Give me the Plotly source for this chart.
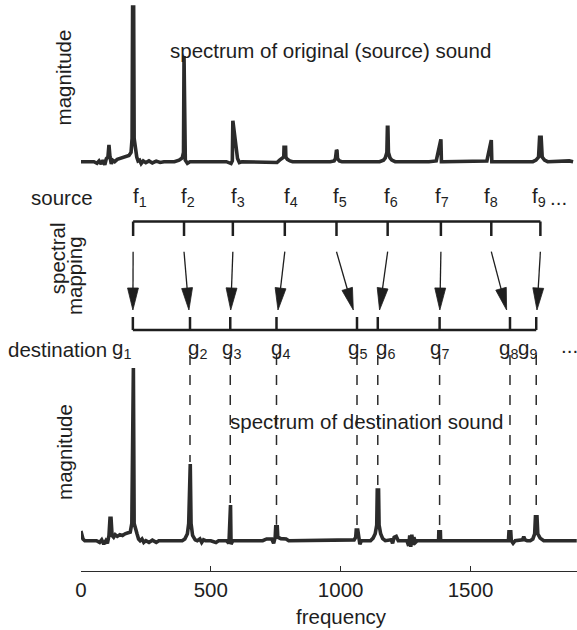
import math
import plotly.graph_objects as go

W, H = 577, 630

# ---------------- data ----------------
source_freqs = [201, 397, 585, 785, 984, 1181, 1386, 1580, 1769]
dest_freqs = [200, 420, 575, 753, 1063, 1143, 1381, 1652, 1753]
dest_peak_mag = [1.0, 0.444, 0.207, 0.081, 0.062, 0.293, 0.052, 0.052, 0.139]
source_labels = ["f<sub>%d</sub>" % i for i in range(1, 10)]
dest_labels = ["g<sub>%d</sub>" % i for i in range(1, 10)]
x_tick_vals = [0, 500, 1000, 1500]

src_spec_freq = [0, 50, 62, 70, 78, 85, 92, 98, 104, 108, 112, 117, 122, 130, 140, 150, 160,
                 172, 185, 193, 197, 199, 203, 205, 210, 215, 220, 226, 232, 240, 250, 262,
                 275, 290, 305, 320, 360, 378, 390, 395, 397, 399, 402, 410, 420, 560, 570,
                 578, 583, 585, 603, 610, 620, 740, 755, 765, 775, 781, 782, 788, 789, 795,
                 805, 815, 960, 975, 980, 982, 984, 986, 988, 995, 1005, 1150, 1165, 1172,
                 1178, 1180, 1182, 1184, 1190, 1197, 1210, 1340, 1368, 1386, 1388, 1395,
                 1540, 1563, 1580, 1582, 1590, 1740, 1752, 1762, 1766, 1772, 1776, 1785,
                 1797, 1880, 1895]
src_spec_mag = [0.0, 0.0, -0.01, 0.005, -0.015, 0.01, -0.02, 0.02, 0.03, 0.108, 0.03, -0.015,
                0.01, 0.0, 0.015, 0.02, 0.025, 0.03, 0.04, 0.06, 0.15, 1.0, 1.0, 0.15, 0.06,
                0.03, 0.005, 0.01, -0.012, 0.005, -0.006, 0.005, -0.008, 0.004, -0.005, 0.0,
                0.0, 0.01, 0.025, 0.06, 0.683, 0.06, 0.01, -0.01, 0.0, 0.0, -0.005, -0.012,
                0.005, 0.265, 0.02, -0.005, 0.0, 0.0, -0.005, 0.01, 0.02, 0.03, 0.093, 0.093,
                0.03, 0.015, 0.005, 0.0, 0.0, 0.005, 0.02, 0.07, 0.076, 0.07, 0.02, 0.005,
                0.0, 0.0, 0.01, 0.025, 0.06, 0.222, 0.222, 0.06, 0.025, 0.01, 0.0, 0.0,
                0.005, 0.145, 0.0, 0.0, 0.0, 0.005, 0.14, 0.0, 0.0, 0.0, 0.01, 0.03, 0.158,
                0.158, 0.03, 0.01, 0.0, 0.005, 0.0]

dst_spec_freq = [0, 8, 15, 60, 72, 80, 88, 96, 102, 108, 112, 116, 120, 126, 132, 140, 150,
                 160, 170, 180, 190, 196, 199, 202, 205, 210, 216, 222, 228, 235, 242, 250,
                 262, 275, 290, 300, 390, 400, 410, 415, 418, 421, 424, 430, 440, 448, 458,
                 465, 472, 480, 500, 520, 530, 560, 570, 573, 576, 578, 585, 700, 715, 735,
                 742, 748, 750, 756, 758, 770, 790, 800, 1040, 1052, 1058, 1060, 1066, 1070,
                 1074, 1080, 1115, 1125, 1133, 1139, 1141, 1146, 1148, 1154, 1162, 1172,
                 1185, 1195, 1200, 1206, 1214, 1222, 1255, 1262, 1266, 1270, 1274, 1278,
                 1282, 1288, 1295, 1370, 1377, 1378, 1384, 1385, 1630, 1646, 1648, 1655,
                 1657, 1664, 1672, 1700, 1705, 1710, 1718, 1730, 1740, 1747, 1750, 1756,
                 1759, 1768, 1782, 1909]
dst_spec_mag = [0.056, 0.01, 0.0, 0.0, -0.01, 0.005, -0.02, 0.0, -0.015, 0.03, 0.13, 0.13,
                0.03, 0.02, 0.035, 0.025, 0.035, 0.03, 0.04, 0.045, 0.05, 0.1, 1.0, 1.0, 0.1,
                0.06, 0.04, 0.01, 0.0, 0.01, -0.01, 0.0, -0.01, 0.003, -0.01, 0.0, 0.0, 0.01,
                0.04, 0.1, 0.444, 0.444, 0.1, 0.03, 0.005, 0.0, 0.01, -0.01, 0.005, 0.0, 0.0,
                -0.01, 0.0, 0.0, -0.015, 0.207, 0.207, -0.02, 0.0, 0.0, 0.01, 0.01, -0.015,
                0.02, 0.081, 0.081, 0.02, 0.012, 0.01, 0.0, 0.0, 0.005, 0.02, 0.062, 0.062,
                0.02, -0.02, 0.0, 0.0, 0.015, 0.04, 0.09, 0.293, 0.293, 0.09, 0.04, 0.012,
                0.0, 0.0, 0.005, -0.015, 0.02, 0.025, 0.0, 0.0, -0.03, 0.03, -0.035, 0.035,
                -0.025, 0.02, -0.01, 0.0, 0.0, 0.0, 0.052, 0.052, 0.0, 0.0, 0.0, 0.052, 0.052,
                0.0, -0.015, 0.0, 0.005, 0.023, 0.005, 0.0, 0.0, 0.01, 0.04, 0.139, 0.139,
                0.04, 0.015, 0.0, 0.0]

# ---------------- layout geometry (pixels) ----------------
X0 = 75.7           # pixel of frequency 0
XMAX = 1910
K = (W - X0) / XMAX  # px per Hz
INK = "#2b2b2b"
TXT = "#1e1e1e"
FONT = "Liberation Sans, Arial, Helvetica, sans-serif"
FS = 20.5

TOP_BRACKET_Y, TOP_TICK_Y = 221.5, 236.0
BOT_BRACKET_Y, BOT_TICK_Y = 330.0, 317.0
ARROW_TOP, ARROW_TIP = 251.7, 310.0
HEAD_LEN, HEAD_HALF = 22.0, 5.5
DASH_TOP = 1.075

fig = go.Figure()

# spectra
fig.add_trace(go.Scatter(x=src_spec_freq, y=src_spec_mag, mode="lines", xaxis="x", yaxis="y",
                         line=dict(color=INK, width=3.6), hoverinfo="skip"))
fig.add_trace(go.Scatter(x=dst_spec_freq, y=dst_spec_mag, mode="lines", xaxis="x", yaxis="y2",
                         line=dict(color=INK, width=3.6), hoverinfo="skip"))

# dashed guide lines from destination labels to peaks
dx, dy = [], []
for g, m in list(zip(dest_freqs, dest_peak_mag))[1:]:
    dx += [g, g, None]
    dy += [DASH_TOP, m + 0.012, None]
fig.add_trace(go.Scatter(x=dx, y=dy, mode="lines", xaxis="x", yaxis="y2",
                         line=dict(color=INK, width=1.5, dash="10px,10px"), hoverinfo="skip"))

# brackets
bx, by = [source_freqs[0], source_freqs[-1], None], [TOP_BRACKET_Y, TOP_BRACKET_Y, None]
for f in source_freqs:
    bx += [f, f, None]
    by += [TOP_BRACKET_Y, TOP_TICK_Y, None]
bx += [dest_freqs[0], dest_freqs[-1], None]
by += [BOT_BRACKET_Y, BOT_BRACKET_Y, None]
for g in dest_freqs:
    bx += [g, g, None]
    by += [BOT_BRACKET_Y, BOT_TICK_Y, None]
fig.add_trace(go.Scatter(x=bx, y=by, mode="lines", xaxis="x", yaxis="y3",
                         line=dict(color=TXT, width=2.5), hoverinfo="skip"))

# arrows
sx, sy, hx, hy = [], [], [], []
for f, g in zip(source_freqs, dest_freqs):
    x0, y0 = f * K, ARROW_TOP
    x1, y1 = (f + (g - f) * 0.82) * K, ARROW_TIP
    vx, vy = x1 - x0, y1 - y0
    L = math.hypot(vx, vy)
    ux, uy = vx / L, vy / L
    bxp, byp = x1 - HEAD_LEN * ux, y1 - HEAD_LEN * uy
    px_, py_ = -uy, ux
    sx += [x0 / K, (bxp + 2 * ux) / K, None]
    sy += [y0, byp + 2 * uy, None]
    hx += [x1 / K, (bxp + HEAD_HALF * px_) / K, (bxp - HEAD_HALF * px_) / K, x1 / K, None]
    hy += [y1, byp + HEAD_HALF * py_, byp - HEAD_HALF * py_, y1, None]
fig.add_trace(go.Scatter(x=sx, y=sy, mode="lines", xaxis="x", yaxis="y3",
                         line=dict(color=TXT, width=1.3), hoverinfo="skip"))
fig.add_trace(go.Scatter(x=hx, y=hy, mode="lines", fill="toself", fillcolor=TXT, xaxis="x",
                         yaxis="y3", line=dict(color=TXT, width=0.8), hoverinfo="skip"))

ann = []


def text(t, x, y, xref="paper", size=FS, angle=0, xanchor="center", xshift=0):
    ann.append(dict(text=t, x=x, y=y, xref=xref, yref="y3", showarrow=False,
                    font=dict(family=FONT, size=size, color=TXT), textangle=angle,
                    xanchor=xanchor, yanchor="middle", xshift=xshift))


text("spectrum of original (source) sound", 328 / W, 50)
text("spectrum of destination sound", 365 / W, 421.5)
text("magnitude", 58.5 / W, 77.5, angle=-90)
text("magnitude", 58.5 / W, 452, angle=-90)
text("spectral", 51.5 / W, 258.3, angle=-90)
text("mapping", 70 / W, 275.8, angle=-90)
text("source", 57 / W, 197.5)
text("destination", 52.4 / W, 349.5)
text("frequency", 339 / W, 616.5)

f_label_shift = [7, 4, 5, 6, 4, 3, 1, 0, -1]
g_label_shift = [-11, 7.3, 1.2, 4.1, 0, 7.4, -0.4, -1.5, -8.5]
for f, lab, s in zip(source_freqs, source_labels, f_label_shift):
    text(lab, f, 196.5, xref="x", xshift=s)
for g, lab, s in zip(dest_freqs, dest_labels, g_label_shift):
    text(lab, g, 348.5, xref="x", xshift=s)
text("...", 548 / W, 197.5, xanchor="left")
text("...", 559 / W, 345, xanchor="left")

fig.update_layout(
    width=W, height=H, autosize=False,
    margin=dict(l=0, r=0, t=0, b=0, pad=0),
    paper_bgcolor="white", plot_bgcolor="rgba(0,0,0,0)",
    showlegend=False,
    annotations=ann,
    xaxis=dict(domain=[X0 / W, 1], range=[0, XMAX], anchor="free", position=1 - 571 / H,
               showline=True, linecolor=INK, linewidth=1.3, ticks="inside", ticklen=5,
               tickwidth=1.3, tickcolor=INK, tickvals=x_tick_vals, showgrid=False,
               zeroline=False, tickfont=dict(family=FONT, size=FS, color=TXT)),
    yaxis=dict(domain=[1 - 170 / H, 1], range=[-0.05365, 1.04525], visible=False,
               anchor="x", showgrid=False, zeroline=False),
    yaxis2=dict(domain=[1 - 560 / H, 1 - 350 / H], range=[-0.11175, 1.10423], visible=False,
                anchor="x", showgrid=False, zeroline=False),
    yaxis3=dict(domain=[0, 1], range=[H, 0], visible=False, anchor="x", showgrid=False,
                zeroline=False),
)

fig.write_html("out.html", config={"displayModeBar": False},
               post_script="document.body.style.margin='0px';")
